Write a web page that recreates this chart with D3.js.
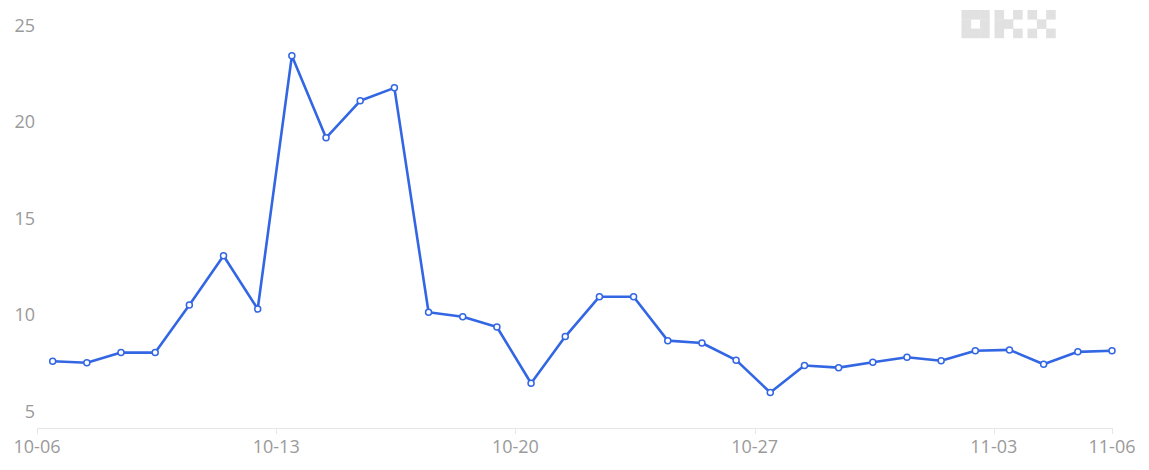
<!DOCTYPE html>
<html lang="en">
<head>
  <meta charset="UTF-8">
  <title>Daily line chart</title>
  <style>
    body {
      margin: 0;
      padding: 0;
      background: #ffffff;
      font-family: 'Open Sans', 'Noto Sans', Arial, sans-serif;
    }
    .axis-label {
      fill: #9a9a9a;
      font-size: 18px;
    }
  </style>
</head>
<body>

<svg id="chart" width="1149" height="470"></svg>

<script src="https://d3js.org/d3.v7.min.js"></script>
<script>
  const width = 1149, height = 470;

  // daily points, 10-06 .. 11-06
  const startDay = Date.UTC(2024, 9, 6);
  const values = [
    7.56, 7.48, 8.01, 8.01, 10.48, 13.03, 10.27, 23.40, 19.15, 21.07, 21.74,
    10.10, 9.87, 9.34, 6.42, 8.84, 10.91, 10.91, 8.63, 8.51, 7.62, 5.94,
    7.34, 7.23, 7.51, 7.77, 7.59, 8.11, 8.15, 7.41, 8.05, 8.11
  ];
  const yTicks = [5, 10, 15, 20, 25];
  const xTickLabels = ["10-06", "10-13", "10-20", "10-27", "11-03", "11-06"];
  const xTickDays = [0, 7, 14, 21, 28, 31];

  const DAY = 864e5;
  const hourOffset = 11; // points sit a bit after midnight
  const dates = values.map((v, i) => new Date(startDay + i * DAY + hourOffset * 36e5));
  const data = values.map((v, i) => ({ date: dates[i], value: v }));

  const svg = d3.select("#chart");

  const x = d3.scaleUtc()
    .domain([new Date(startDay), dates[dates.length - 1]])
    .range([37, 1112]);

  const y = d3.scaleLinear()
    .domain([4.1, 25])
    .range([428, 25]);

  // watermark (pixel logo)
  const logoCells = [
    // O
    [0,0],[1,0],[2,0],[0,1],[2,1],[0,2],[1,2],[2,2],
    // K
    [3.55,0],[3.55,1],[3.55,2],[4.55,1],[5.55,0],[5.55,2],
    // X
    [7.1,0],[9.1,0],[8.1,1],[7.1,2],[9.1,2]
  ];
  const cell = 9.3;
  svg.append("g")
    .attr("transform", "translate(961.5,10)")
    .selectAll("rect")
    .data(logoCells)
    .enter()
    .append("rect")
    .attr("x", d => d[0] * cell)
    .attr("y", d => d[1] * cell)
    .attr("width", cell + 0.3)
    .attr("height", cell + 0.3)
    .attr("fill", "#e1e1e1");

  // x axis
  const xAxis = svg.append("g");
  xAxis.append("line")
    .attr("x1", x.range()[0])
    .attr("x2", x.range()[1])
    .attr("y1", 428.5)
    .attr("y2", 428.5)
    .attr("stroke", "#e6e6e6")
    .attr("stroke-width", 1);

  const xTicks = xTickDays.map((d, i) => ({
    date: i === xTickDays.length - 1 ? dates[dates.length - 1] : new Date(startDay + d * DAY),
    label: xTickLabels[i]
  }));

  xAxis.selectAll("line.tick")
    .data(xTicks)
    .enter()
    .append("line")
    .attr("class", "tick")
    .attr("x1", d => Math.round(x(d.date)) + 0.5)
    .attr("x2", d => Math.round(x(d.date)) + 0.5)
    .attr("y1", 428)
    .attr("y2", 434)
    .attr("stroke", "#e6e6e6");

  xAxis.selectAll("text")
    .data(xTicks)
    .enter()
    .append("text")
    .attr("class", "axis-label")
    .attr("x", d => x(d.date))
    .attr("y", 446)
    .attr("text-anchor", "middle")
    .attr("dominant-baseline", "central")
    .text(d => d.label);

  // y labels
  svg.append("g")
    .selectAll("text")
    .data(yTicks)
    .enter()
    .append("text")
    .attr("class", "axis-label")
    .attr("x", 35)
    .attr("y", d => y(d))
    .attr("text-anchor", "end")
    .attr("dominant-baseline", "central")
    .text(d => d);

  // line
  const line = d3.line()
    .x(d => x(d.date))
    .y(d => y(d.value));

  svg.append("path")
    .datum(data)
    .attr("d", line)
    .attr("fill", "none")
    .attr("stroke", "#3266e3")
    .attr("stroke-width", 2.6)
    .attr("stroke-linejoin", "round");

  svg.selectAll("circle")
    .data(data)
    .enter()
    .append("circle")
    .attr("cx", d => x(d.date))
    .attr("cy", d => y(d.value))
    .attr("r", 3)
    .attr("fill", "#ffffff")
    .attr("stroke", "#3266e3")
    .attr("stroke-width", 1.5);
</script>

</body>
</html>
